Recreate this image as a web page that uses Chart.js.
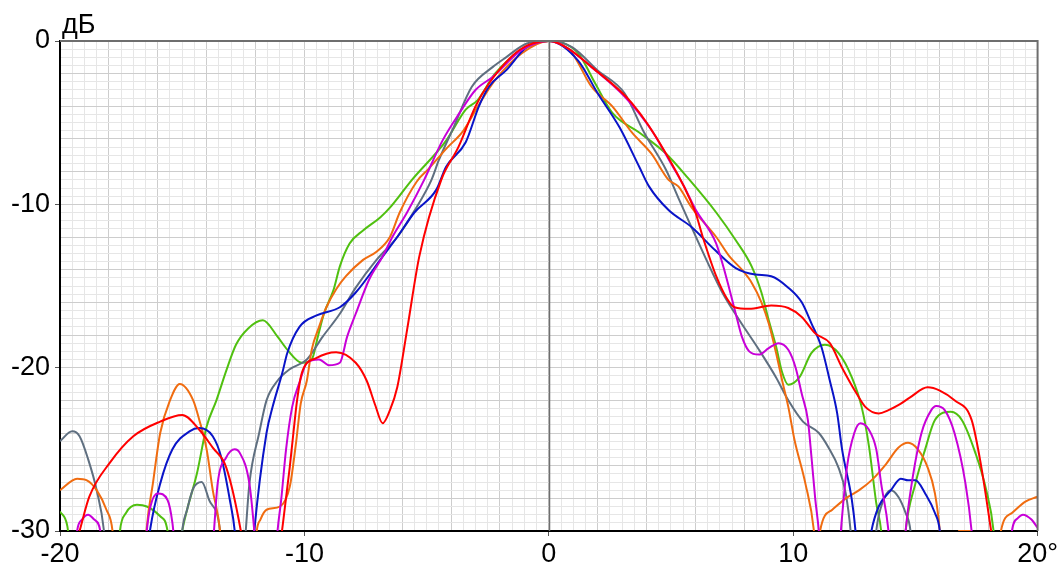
<!DOCTYPE html>
<html>
<head>
<meta charset="utf-8">
<script src="https://cdn.jsdelivr.net/npm/chart.js@4.4.1/dist/chart.umd.min.js"></script>
<style>
  body { margin: 0; background: #fff; }
  #wrap { position: relative; width: 1060px; height: 564px; }
</style>
</head>
<body>
<div id="wrap"><canvas id="chart"></canvas></div>
<script>
// axis ranges / labels
const xRange = [-20, 20];
const yRange = [-30, 0];
const xLabels = { '-20': '-20', '-10': '-10', '0': '0', '10': '10', '20': '20°' };
const yLabels = { '0': '0', '-10': '-10', '-20': '-20', '-30': '-30' };
const unitLabel = 'дБ';

// each series = lobes of [deg, dB]; the points at -31 only run the line off the bottom
const red = [
  [[-19.4, -31], [-19.2, -30], [-18.8, -27.9], [-17.95, -25.8], [-17.0, -24.2], [-15.9, -23.3], [-15.0, -22.9],
   [-14.3, -23.8], [-13.75, -24.9], [-13.2, -26.1], [-12.6, -30], [-12.5, -31]],
  [[-11.0, -31], [-10.6, -26.1], [-10.45, -24], [-10.3, -22], [-10.1, -20.3], [-9.5, -19.4], [-8.7, -19.05],
   [-7.9, -19.7], [-7.45, -20.8], [-7.1, -22.3], [-6.8, -23.4], [-6.5, -22.6], [-6.2, -21.2], [-5.8, -17.7],
   [-5.3, -13.2], [-4.4, -8.5], [-3.7, -6.5], [-3.0, -4.0], [-2.45, -2.6], [-1.2, -0.55], [0, 0],
   [0.7, -0.37], [1.76, -1.6], [3.4, -3.8], [4.8, -6.9], [6.0, -10.5], [6.3, -12], [6.85, -14.4], [7.3, -15.8],
   [7.6, -16.3], [8.2, -16.4], [9.1, -16.2], [9.8, -16.35], [10.35, -16.9], [10.9, -17.9], [11.5, -18.5],
   [12.0, -20], [12.6, -21.6], [12.95, -22.4], [13.5, -22.8], [13.9, -22.6], [14.3, -22.3], [14.8, -21.8],
   [15.5, -21.2], [16.0, -21.4], [16.6, -22], [17.3, -23.2], [17.7, -26.1], [18.1, -30], [18.2, -31]]
];
const blue = [
  [[-16.4, -31], [-16.3, -29.8], [-15.9, -27.1], [-15.4, -25], [-14.7, -23.9], [-14.3, -23.7], [-13.75, -24.2],
   [-13.4, -25.5], [-13.05, -28.1], [-12.85, -30], [-12.8, -31]],
  [[-12.1, -31], [-12.05, -30], [-11.55, -24], [-11.3, -22.4], [-10.9, -20.3], [-10.7, -19.1], [-10.2, -17.5],
   [-9.5, -16.8], [-8.55, -16.3], [-7.9, -15.4], [-6.8, -13.2], [-6.2, -12], [-5.5, -10.5], [-4.6, -9.1],
   [-4.2, -7.7], [-3.4, -6.2], [-2.86, -4.0], [-2.45, -2.8], [-1.75, -1.8], [-0.9, -0.37], [0, 0],
   [1.2, -1.2], [2.0, -3.2], [2.9, -5.3], [3.7, -7.7], [4.1, -8.9], [4.9, -10.35], [5.85, -11.4], [6.8, -12.8],
   [7.65, -13.9], [8.45, -14.3], [9.1, -14.4], [9.8, -15.1], [10.35, -16.0], [10.75, -17.3], [11.15, -18.7],
   [11.5, -20.8], [11.8, -22.8], [12.0, -25], [12.4, -28.1], [12.55, -30], [12.6, -31]],
  [[13.1, -31], [13.2, -30], [13.5, -28.5], [14.0, -27.5], [14.4, -26.8], [14.7, -26.9], [15.0, -26.9],
   [15.4, -27.7], [15.8, -28.9], [16.0, -30], [16.05, -31]]
];
const green = [
  [[-20, -28.8], [-19.7, -29.7], [-19.6, -31]],
  [[-17.6, -31], [-17.55, -30], [-17.3, -28.9], [-16.85, -28.4], [-16.45, -28.5], [-15.9, -29.1], [-15.6, -30], [-15.55, -31]],
  [[-15.1, -31], [-15.0, -30], [-14.8, -28.7], [-14.4, -26.5], [-14.0, -23.6], [-13.6, -22], [-13.2, -20.2],
   [-12.8, -18.6], [-12.3, -17.6], [-11.7, -17.1], [-11.1, -18.1], [-10.7, -18.9], [-10.1, -19.7], [-9.7, -19.5],
   [-9.45, -18.1], [-9.2, -16.7], [-8.8, -15.2], [-8.55, -13.8], [-8.15, -12.4], [-7.6, -11.6], [-6.9, -10.8],
   [-6.5, -10.2], [-5.6, -8.5], [-4.2, -6.1], [-3.4, -4.2], [-2.9, -3.6], [-2.2, -2.0], [-1.1, -0.55], [0, 0],
   [1.2, -0.75], [1.9, -2.6], [2.6, -4.4], [3.7, -5.6], [4.8, -6.9], [5.7, -8.4], [6.85, -10.5], [7.65, -12.2],
   [8.3, -13.8], [8.7, -15.4], [9.0, -17.1], [9.3, -18.7], [9.55, -20.3], [9.8, -21.05], [10.25, -20.6],
   [10.75, -19.1], [11.3, -18.6], [11.85, -19.1], [12.4, -20.6], [12.8, -22.4], [13.1, -24.8], [13.4, -28.3],
   [13.6, -30], [13.65, -31]],
  [[14.55, -31], [14.6, -30], [15.0, -27.1], [15.4, -25.0], [15.8, -23.2], [16.45, -22.7], [16.9, -23.2],
   [17.45, -25.2], [17.9, -27.5], [18.2, -30], [18.25, -31]]
];
const orange = [
  [[-20, -27.5], [-19.3, -26.8], [-18.9, -26.9], [-18.5, -27.5], [-18.1, -28.7], [-17.85, -30], [-17.8, -31]],
  [[-16.5, -31], [-16.45, -29.8], [-16.2, -27.1], [-15.9, -24], [-15.5, -22], [-15.1, -21.0], [-14.55, -22],
   [-14.3, -23.2], [-14.0, -25], [-13.75, -27.5], [-13.45, -30], [-13.4, -31]],
  [[-12.0, -31], [-11.95, -30], [-11.8, -29.3], [-11.55, -28.7], [-11.0, -28.5], [-10.6, -27.3], [-10.35, -24.7],
   [-10.15, -22.2], [-9.9, -20.8], [-9.7, -18.9], [-9.4, -17.5], [-9.1, -16.3], [-8.7, -15.2], [-8.3, -14.4],
   [-7.6, -13.4], [-7.05, -12.9], [-6.5, -12], [-6.1, -10.5], [-5.4, -8.6], [-4.9, -7.8], [-4.2, -6.6],
   [-3.5, -5.5], [-2.9, -4.0], [-2.2, -2.4], [-1.1, -0.75], [0, 0],
   [0.95, -0.75], [1.75, -2.8], [2.6, -4.0], [3.4, -5.6], [4.2, -6.9], [4.9, -8.5], [5.3, -8.9], [5.85, -10.2],
   [6.85, -12], [7.4, -13.2], [7.9, -14], [8.3, -14.8], [8.7, -16.0], [9.0, -17.3], [9.3, -19.1], [9.55, -20.8],
   [9.8, -22.4], [10.05, -24.4], [10.5, -27.1], [10.85, -30], [10.9, -31]],
  [[11.05, -31], [11.1, -30], [11.6, -28.7], [12.15, -28.0], [12.7, -27.5], [13.2, -26.9], [13.8, -25.9],
   [14.3, -24.9], [14.7, -24.6], [15.1, -25.0], [15.5, -26.1], [15.8, -27.7], [16.0, -30], [16.05, -31]],
  [[16.75, -30], [17.3, -30]],
  [[18.45, -31], [18.5, -30], [18.95, -28.9], [19.5, -28.2], [20, -27.9]]
];
const gray = [
  [[-20, -24.5], [-19.5, -23.9], [-19.2, -24.2], [-18.85, -25.6], [-18.5, -27.5], [-18.2, -30], [-18.15, -31]],
  [[-15.05, -31], [-15.0, -30], [-14.8, -28.7], [-14.55, -27.4], [-14.2, -27], [-13.9, -28.1], [-13.45, -30], [-13.4, -31]],
  [[-12.45, -31], [-12.4, -30], [-12.25, -27.1], [-11.85, -24], [-11.55, -22], [-11.1, -20.8], [-10.6, -20.1],
   [-9.9, -19.5], [-9.25, -18.1], [-8.55, -16.7], [-7.9, -15.1], [-7.05, -13.4], [-6.2, -12], [-5.5, -10.4],
   [-4.8, -8.5], [-4.5, -7.3], [-3.9, -5.3], [-3.15, -2.8], [-2.3, -1.6], [-1.75, -1.0], [-0.9, -0.15], [0, 0],
   [0.95, -0.37], [2.0, -1.8], [3.1, -3.2], [3.9, -5.6], [4.8, -7.9], [5.3, -9.6], [5.75, -11.1], [6.45, -13.4],
   [7.1, -15.4], [7.8, -17.1], [8.6, -18.9], [9.3, -20.6], [9.8, -22], [10.4, -23.3], [11.05, -24],
   [11.45, -24.9], [11.85, -26.1], [12.15, -27.7], [12.35, -30], [12.4, -31]],
  [[13.35, -31], [13.4, -30], [13.6, -28.5], [14.0, -27.5], [14.3, -27.9], [14.6, -28.9], [14.8, -30], [14.85, -31]]
];
const magenta = [
  [[-19.35, -31], [-19.3, -30], [-19.1, -29.3], [-18.85, -29], [-18.6, -29.3], [-18.35, -30], [-18.3, -31]],
  [[-16.5, -31], [-16.45, -30], [-16.3, -28.5], [-16.0, -27.7], [-15.6, -28.1], [-15.4, -29.5], [-15.3, -31]],
  [[-13.75, -31], [-13.7, -30], [-13.55, -27.1], [-13.2, -25.5], [-12.85, -25.0], [-12.65, -25.2], [-12.25, -27.1],
   [-12.05, -30], [-12.0, -31]],
  [[-11.15, -31], [-11.1, -30], [-10.95, -28.1], [-10.75, -25], [-10.5, -22.4], [-10.2, -20.9], [-9.9, -19.7],
   [-9.4, -19.5], [-9.0, -19.85], [-8.55, -19.7], [-8.25, -18.1], [-7.9, -16.7], [-7.35, -14.6], [-6.8, -13.2],
   [-6.4, -12], [-5.8, -10.5], [-5.1, -8.5], [-4.35, -6.1], [-3.65, -4.4], [-3.0, -3.0], [-2.3, -2.2],
   [-1.1, -0.55], [0, 0],
   [0.7, -0.37], [1.75, -1.6], [3.1, -3.4], [4.2, -5.45], [5.0, -7.5], [5.5, -8.8], [6.0, -10.3], [6.85, -12.4],
   [7.25, -14.4], [7.65, -16.7], [7.9, -18.1], [8.2, -19.0], [8.6, -19.2], [9.0, -18.8], [9.4, -18.5],
   [9.8, -18.9], [10.1, -20], [10.35, -21.6], [10.6, -23.2], [10.75, -25.5], [10.9, -28], [11.05, -30], [11.1, -31]],
  [[11.9, -31], [11.95, -30], [12.2, -26.1], [12.5, -24], [12.75, -23.4], [13.1, -23.8], [13.4, -25],
   [13.6, -27.1], [13.9, -30], [13.95, -31]],
  [[14.55, -31], [14.6, -30], [14.85, -27.1], [15.25, -24], [15.65, -22.6], [15.85, -22.35], [16.2, -22.6],
   [16.6, -24], [17.05, -27.1], [17.3, -30], [17.35, -31]],
  [[18.9, -31], [18.95, -30], [19.2, -29.2], [19.4, -29], [19.75, -29.3], [20, -29.8]]
];

// lobes -> one point list, with a null between lobes so the line breaks
function toPoints(lobes) {
  const pts = [];
  lobes.forEach((lobe, i) => {
    if (i > 0) pts.push({ x: lobe[0][0], y: null });
    lobe.forEach(p => pts.push({ x: p[0], y: p[1] }));
  });
  return pts;
}

const series = [
  { data: red, color: '#ff0000' },
  { data: magenta, color: '#c800d8' },
  { data: blue, color: '#0a14c8' },
  { data: orange, color: '#f06c10' },
  { data: gray, color: '#5f6f80' },
  { data: green, color: '#50c010' }
];

const fontFamily = '"Liberation Sans", Arial, sans-serif';
const font = { family: fontFamily, size: 27 };

function gridColor(v) {
  if (Math.abs(v) % 2 === 0) return '#cdcdcd';
  return '#e6e6e6';
}

// zero line + top/right frame drawn over the curves, and the "дБ" caption
const framePlugin = {
  id: 'frame',
  afterDatasetsDraw(chart) {
    const { ctx, chartArea: a, scales } = chart;
    const x0 = Math.round(scales.x.getPixelForValue(0)) + 0.5;
    ctx.save();
    ctx.strokeStyle = '#6e6e6e';
    ctx.lineWidth = 1.5;
    ctx.beginPath();
    ctx.moveTo(x0, a.top);
    ctx.lineTo(x0, a.bottom);
    ctx.stroke();
    ctx.lineWidth = 2;
    ctx.beginPath();
    ctx.moveTo(a.left, a.top);
    ctx.lineTo(a.right, a.top);
    ctx.lineTo(a.right, a.bottom);
    ctx.stroke();
    ctx.restore();
  },
  afterDraw(chart) {
    const ctx = chart.ctx;
    ctx.save();
    ctx.font = '27px ' + fontFamily;
    ctx.fillStyle = '#000';
    ctx.textBaseline = 'alphabetic';
    ctx.fillText(unitLabel, 62, 33);
    ctx.restore();
  }
};

new Chart(document.getElementById('chart'), {
  type: 'line',
  data: {
    datasets: series.map(s => ({
      data: toPoints(s.data),
      borderColor: s.color,
      borderWidth: 2,
      pointRadius: 0,
      fill: false,
      spanGaps: false,
      cubicInterpolationMode: 'monotone'
    }))
  },
  options: {
    responsive: true,
    maintainAspectRatio: false,
    animation: false,
    layout: { padding: { top: 41, right: 20, left: 0, bottom: 0 } },
    plugins: { legend: { display: false }, tooltip: { enabled: false } },
    scales: {
      x: {
        type: 'linear',
        min: xRange[0],
        max: xRange[1],
        afterFit: s => { s.height = 33; },
        ticks: {
          stepSize: 0.5,
          autoSkip: false,
          maxRotation: 0,
          padding: 2,
          color: '#000',
          font: font,
          callback: v => (xLabels[String(v)] !== undefined ? xLabels[String(v)] : '')
        },
        grid: {
          color: c => gridColor(c.tick.value),
          lineWidth: 1,
          tickLength: 5,
          tickColor: c => (xLabels[String(c.tick.value)] !== undefined ? '#555' : 'rgba(0,0,0,0)')
        },
        border: { color: '#000', width: 2 }
      },
      y: {
        min: yRange[0],
        max: yRange[1],
        afterFit: s => { s.width = 60; },
        ticks: {
          stepSize: 0.5,
          autoSkip: false,
          padding: 5,
          color: '#000',
          font: font,
          callback: v => (yLabels[String(v)] !== undefined ? yLabels[String(v)] : '')
        },
        grid: {
          color: c => gridColor(c.tick.value),
          lineWidth: 1,
          tickLength: 5,
          tickColor: c => (yLabels[String(c.tick.value)] !== undefined ? '#555' : 'rgba(0,0,0,0)')
        },
        border: { color: '#000', width: 2 }
      }
    }
  },
  plugins: [framePlugin]
});
</script>
</body>
</html>
